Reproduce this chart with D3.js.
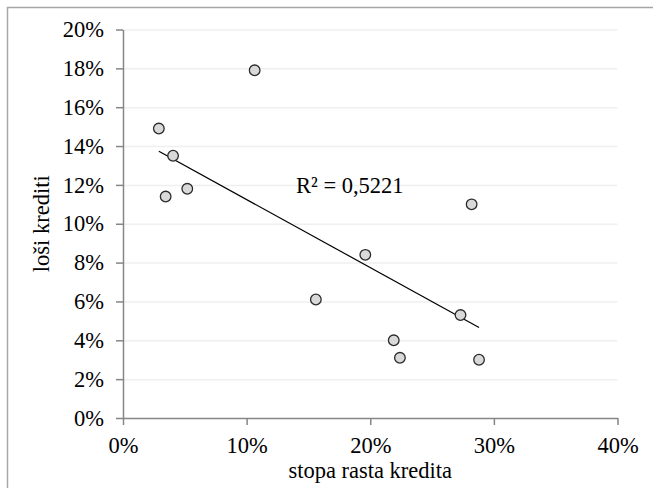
<!DOCTYPE html>
<meta charset="utf-8">
<html lang="hr">
  <head>
    <style>
      body { margin: 0; background-color: #fff; }
      svg { display: block; }
      text { font-family: "Liberation Serif", "Times New Roman", serif; fill: #000; }
      .axis path, .axis line { stroke: #868686; stroke-width: 1.5px; }
      .axis text { font-size: 22.5px; font-family: "Liberation Serif", serif; }
      .grid line { stroke: #efefef; stroke-width: 1.5px; }
      .grid path { display: none; }
      .dot { fill: #d9d9d9; stroke: #2b2b2b; stroke-width: 1.3px; }
      .trend { stroke: #000; stroke-width: 1.2px; }
    </style>
  </head>

  <body>

    <script src="https://cdn.jsdelivr.net/npm/d3@7"></script>

    <svg></svg>

    <script>

      // stopa rasta kredita (x) and loši krediti (y)
      var growth = [0.029, 0.1065, 0.0405, 0.0345, 0.052, 0.282, 0.196, 0.273, 0.219, 0.224, 0.288, 0.156];
      var badLoans = [0.149, 0.179, 0.135, 0.114, 0.118, 0.110, 0.084, 0.053, 0.040, 0.031, 0.030, 0.061];

      var xTicks = [0, 0.1, 0.2, 0.3, 0.4];
      var yTicks = [0, 0.02, 0.04, 0.06, 0.08, 0.10, 0.12, 0.14, 0.16, 0.18, 0.20];
      var rSquaredLabel = "R² = 0,5221";
      var xTitle = "stopa rasta kredita";
      var yTitle = "loši krediti";

      var width = 653,
        height = 488;

      var svg = d3.select("svg")
        .attr("width", width)
        .attr("height", height);

      // outer chart border (only top and left show in the crop)
      svg.append("rect")
        .attr("x", 7.5)
        .attr("y", 7.5)
        .attr("width", 800)
        .attr("height", 600)
        .attr("fill", "none")
        .attr("stroke", "#a6a6a6")
        .attr("stroke-width", 1.5);

      var xScale = d3.scaleLinear()
        .domain([0, 0.4])
        .range([123, 617.5]);

      var yScale = d3.scaleLinear()
        .domain([0, 0.2])
        .range([418, 29.5]);

      var pct = d3.format(".0%");

      // horizontal gridlines
      svg.append("g")
        .attr("class", "grid")
        .attr("transform", "translate(" + xScale(0) + ",0)")
        .call(d3.axisLeft(yScale).tickValues(yTicks.slice(1))
          .tickSize(-(xScale(0.4) - xScale(0))).tickFormat(""));

      svg.append("g")
        .attr("class", "axis")
        .attr("transform", "translate(" + xScale(0) + ",0)")
        .call(d3.axisLeft(yScale).tickValues(yTicks).tickSize(7).tickSizeOuter(0)
          .tickPadding(12).tickFormat(pct));

      svg.append("g")
        .attr("class", "axis")
        .attr("transform", "translate(0," + yScale(0) + ")")
        .call(d3.axisBottom(xScale).tickValues(xTicks).tickSize(7).tickSizeOuter(0)
          .tickPadding(12).tickFormat(pct));

      svg.selectAll(".axis")
        .attr("font-family", null)
        .attr("font-size", null);
      svg.selectAll(".axis text").attr("fill", "#000");

      // linear trend line (least squares)
      var mx = d3.mean(growth),
        my = d3.mean(badLoans);
      var sxy = d3.sum(growth, function(d, i) { return (d - mx) * (badLoans[i] - my); }),
        sxx = d3.sum(growth, function(d) { return (d - mx) * (d - mx); });
      var slope = sxy / sxx,
        intercept = my - slope * mx;
      var xExt = d3.extent(growth);

      svg.append("line")
        .attr("class", "trend")
        .attr("x1", xScale(xExt[0]))
        .attr("y1", yScale(intercept + slope * xExt[0]))
        .attr("x2", xScale(xExt[1]))
        .attr("y2", yScale(intercept + slope * xExt[1]));

      svg.selectAll(".dot")
        .data(growth)
        .enter().append("circle")
        .attr("class", "dot")
        .attr("cx", function(d) { return xScale(d); })
        .attr("cy", function(d, i) { return yScale(badLoans[i]); })
        .attr("r", 5.3);

      svg.append("text")
        .attr("x", 296)
        .attr("y", 193)
        .style("font-size", "22.5px")
        .text(rSquaredLabel);

      svg.append("text")
        .attr("x", (xScale(0) + xScale(0.4)) / 2)
        .attr("y", 478)
        .attr("text-anchor", "middle")
        .style("font-size", "22.5px")
        .text(xTitle);

      svg.append("text")
        .attr("transform", "translate(49," + (yScale(0) + yScale(0.2)) / 2 + ") rotate(-90)")
        .attr("text-anchor", "middle")
        .style("font-size", "22.5px")
        .text(yTitle);

    </script>

  </body>
</html>
